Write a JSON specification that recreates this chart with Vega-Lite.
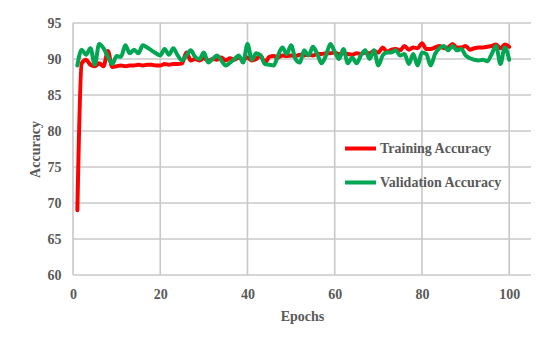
{
  "$schema": "https://vega.github.io/schema/vega-lite/v6.json",
  "autosize": {"type": "none"},
  "width": 458,
  "height": 252,
  "padding": {"left": 73, "top": 23, "right": 21, "bottom": 64},
  "background": "white",
  "config": {
    "view": {"stroke": null},
    "font": "Liberation Serif",
    "axis": {
      "labelFont": "Liberation Serif", "labelFontWeight": "bold", "labelColor": "#595959", "labelFontSize": 14,
      "titleFont": "Liberation Serif", "titleFontWeight": "bold", "titleColor": "#595959", "titleFontSize": 14,
      "grid": false, "domain": false, "ticks": false
    }
  },
  "datasets": {
    "acc": [
    {"e":1,"t":69,"v":89.1},{"e":2,"t":89.4,"v":91.3},{"e":3,"t":89.9,"v":90.6},{"e":4,"t":89.2,"v":91.5},{"e":5,"t":89.0,"v":89.2},
    {"e":6,"t":89.4,"v":92.1},{"e":7,"t":89.0,"v":91.5},{"e":8,"t":91.1,"v":90.3},{"e":9,"t":88.9,"v":89.3},{"e":10,"t":89.0,"v":90.4},
    {"e":11,"t":89.1,"v":90.3},{"e":12,"t":89.0,"v":91.9},{"e":13,"t":89.1,"v":90.8},{"e":14,"t":89.1,"v":91.3},{"e":15,"t":89.2,"v":90.8},
    {"e":16,"t":89.1,"v":91.9},{"e":17,"t":89.2,"v":91.6},{"e":18,"t":89.2,"v":91.2},{"e":19,"t":89.1,"v":90.8},{"e":20,"t":89.1,"v":90.5},
    {"e":21,"t":89.3,"v":91.4},{"e":22,"t":89.2,"v":90.6},{"e":23,"t":89.3,"v":91.5},{"e":24,"t":89.3,"v":90.5},{"e":25,"t":89.4,"v":89.8},
    {"e":26,"t":90.9,"v":90.5},{"e":27,"t":89.8,"v":91.2},{"e":28,"t":90.0,"v":90.3},{"e":29,"t":89.8,"v":90.0},{"e":30,"t":90.1,"v":90.9},
    {"e":31,"t":89.8,"v":89.5},{"e":32,"t":90.0,"v":90.0},{"e":33,"t":89.9,"v":90.5},{"e":34,"t":90.2,"v":89.8},{"e":35,"t":89.8,"v":89.1},
    {"e":36,"t":90.1,"v":89.5},{"e":37,"t":89.9,"v":90.0},{"e":38,"t":90.2,"v":90.5},{"e":39,"t":89.9,"v":89.5},{"e":40,"t":90.2,"v":92.1},
    {"e":41,"t":89.8,"v":89.9},{"e":42,"t":90.0,"v":90.8},{"e":43,"t":90.5,"v":90.5},{"e":44,"t":89.5,"v":89.3},{"e":45,"t":90.3,"v":89.2},
    {"e":46,"t":90.4,"v":89.1},{"e":47,"t":90.2,"v":90.5},{"e":48,"t":90.5,"v":91.6},{"e":49,"t":90.4,"v":90.7},{"e":50,"t":90.5,"v":91.9},
    {"e":51,"t":90.4,"v":90.0},{"e":52,"t":90.6,"v":89.5},{"e":53,"t":90.5,"v":91.2},{"e":54,"t":90.6,"v":90.5},{"e":55,"t":90.5,"v":91.7},
    {"e":56,"t":90.7,"v":90.7},{"e":57,"t":90.7,"v":89.4},{"e":58,"t":90.8,"v":90.5},{"e":59,"t":90.8,"v":92.1},{"e":60,"t":90.9,"v":91.0},
    {"e":61,"t":90.7,"v":90.0},{"e":62,"t":90.8,"v":91.4},{"e":63,"t":90.7,"v":89.4},{"e":64,"t":90.6,"v":90.2},{"e":65,"t":90.8,"v":89.4},
    {"e":66,"t":90.7,"v":90.5},{"e":67,"t":90.9,"v":91.2},{"e":68,"t":90.8,"v":90.0},{"e":69,"t":91.1,"v":91.2},{"e":70,"t":90.9,"v":89.1},
    {"e":71,"t":91.6,"v":90.5},{"e":72,"t":91.0,"v":90.9},{"e":73,"t":91.3,"v":90.9},{"e":74,"t":91.4,"v":91.2},{"e":75,"t":91.2,"v":90.5},
    {"e":76,"t":91.8,"v":90.7},{"e":77,"t":91.3,"v":89.3},{"e":78,"t":91.6,"v":90.7},{"e":79,"t":91.5,"v":89.1},{"e":80,"t":92.2,"v":90.9},
    {"e":81,"t":91.4,"v":90.7},{"e":82,"t":91.4,"v":89.1},{"e":83,"t":91.6,"v":90.7},{"e":84,"t":91.8,"v":91.5},{"e":85,"t":91.5,"v":91.8},
    {"e":86,"t":91.6,"v":91.2},{"e":87,"t":92.1,"v":91.8},{"e":88,"t":91.6,"v":91.2},{"e":89,"t":91.6,"v":91.4},{"e":90,"t":91.8,"v":90.5},
    {"e":91,"t":91.3,"v":90.1},{"e":92,"t":91.5,"v":89.9},{"e":93,"t":91.6,"v":89.8},{"e":94,"t":91.6,"v":89.9},{"e":95,"t":91.7,"v":89.7},
    {"e":96,"t":91.8,"v":90.7},{"e":97,"t":92.0,"v":91.8},{"e":98,"t":91.5,"v":89.3},{"e":99,"t":92.0,"v":91.6},{"e":100,"t":91.7,"v":89.9}
    ],
    "ygrid": [{"g": 60}, {"g": 65}, {"g": 70}, {"g": 75}, {"g": 80}, {"g": 85}, {"g": 90}, {"g": 95}],
    "xgrid": [{"g": 0}, {"g": 20}, {"g": 40}, {"g": 60}, {"g": 80}, {"g": 100}]
  },
  "layer": [
    {
      "data": {"name": "ygrid"},
      "mark": {"type": "rule", "color": "#c8c8c8", "strokeWidth": 1.6},
      "encoding": {"y": {"field": "g", "type": "quantitative", "title": "Accuracy",
        "scale": {"domain": [60, 95], "nice": false, "zero": false},
        "axis": {"values": [60, 65, 70, 75, 80, 85, 90, 95], "labelPadding": 12, "titlePadding": 5}}}
    },
    {
      "data": {"name": "xgrid"},
      "mark": {"type": "rule", "color": "#c8c8c8", "strokeWidth": 1.6},
      "encoding": {"x": {"field": "g", "type": "quantitative", "title": "Epochs",
        "scale": {"domain": [0, 105], "nice": false, "zero": false},
        "axis": {"values": [0, 20, 40, 60, 80, 100], "labelPadding": 12, "titlePadding": 8, "labelFlush": false}}}
    },
    {
      "data": {"name": "acc"},
      "transform": [
        {"fold": ["t", "v"], "as": ["k", "acc"]},
        {"lookup": "k", "from": {"data": {"values": [{"k": "t", "s": "Training Accuracy"}, {"k": "v", "s": "Validation Accuracy"}]}, "key": "k", "fields": ["s"]}}
      ],
      "mark": {"type": "line", "strokeWidth": 4, "strokeJoin": "round", "strokeCap": "round", "interpolate": "monotone", "clip": true},
      "encoding": {
        "x": {"field": "e", "type": "quantitative", "title": "Epochs",
          "scale": {"domain": [0, 105], "nice": false, "zero": false},
          "axis": {"values": [0, 20, 40, 60, 80, 100], "labelPadding": 12, "titlePadding": 8, "labelFlush": false}},
        "y": {"field": "acc", "type": "quantitative", "title": "Accuracy",
          "scale": {"domain": [60, 95], "nice": false, "zero": false},
          "axis": {"values": [60, 65, 70, 75, 80, 85, 90, 95], "labelPadding": 12, "titlePadding": 5}},
        "color": {"field": "s", "type": "nominal",
          "scale": {"domain": ["Training Accuracy", "Validation Accuracy"], "range": ["#ff0000", "#00a651"]},
          "legend": {"title": null, "orient": "none", "legendX": 270, "legendY": 108,
            "symbolType": "stroke", "symbolSize": 961, "symbolStrokeWidth": 4,
            "labelFont": "Liberation Serif", "labelFontWeight": "bold", "labelFontSize": 14, "labelColor": "#595959",
            "labelOffset": 2, "rowPadding": 8}}
      }
    }
  ]
}
